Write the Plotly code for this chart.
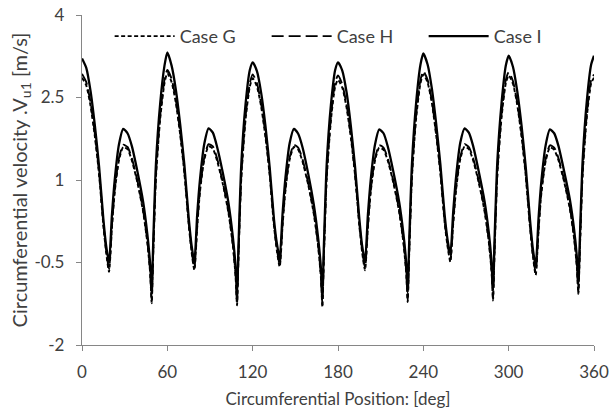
import plotly.graph_objects as go

x_deg = [0,3,6,9,12,15,17,19,21,23,26,29,32,35,39,43,46,48,49,50,52,55,58,
 60,63,66,69,72,75,77,79,81,83,86,89,92,95,99,103,106,108,109,110,112,115,118,
 120,123,126,129,132,135,137,139,141,143,146,149,152,155,159,163,166,168,169,170,172,175,178,
 180,183,186,189,192,195,197,199,201,203,206,209,212,215,219,223,226,228,229,230,232,235,238,
 240,243,246,249,252,255,257,259,261,263,266,269,272,275,279,283,286,288,289,290,292,295,298,
 300,303,306,309,312,315,317,319,321,323,326,329,332,335,339,343,346,348,349,350,352,355,358,
 360]

case_g = [
 2.86,2.72,2.35,1.8,1.1,0.18,-0.32,-0.67,0.12,0.78,1.36,1.6,1.56,1.36,0.95,0.42,-0.15,-0.72,-1.24,-0.4,1.05,2.12,2.76,
 2.94,2.78,2.4,1.83,1.12,0.2,-0.3,-0.64,0.14,0.8,1.37,1.61,1.57,1.35,0.93,0.4,-0.18,-0.75,-1.28,-0.42,1.03,2.1,2.7,
 2.85,2.7,2.33,1.78,1.08,0.16,-0.28,-0.58,0.16,0.8,1.37,1.6,1.55,1.34,0.92,0.38,-0.2,-0.78,-1.31,-0.45,1.0,2.08,2.7,
 2.82,2.68,2.32,1.78,1.08,0.17,-0.32,-0.64,0.13,0.78,1.35,1.59,1.55,1.35,0.94,0.42,-0.14,-0.7,-1.22,-0.38,1.05,2.14,2.76,
 2.92,2.77,2.4,1.82,1.12,0.22,-0.2,-0.49,0.2,0.82,1.38,1.61,1.56,1.36,0.95,0.44,-0.12,-0.68,-1.19,-0.36,1.07,2.14,2.76,
 2.9,2.75,2.37,1.8,1.08,0.14,-0.38,-0.73,0.08,0.76,1.34,1.59,1.55,1.36,0.97,0.48,-0.06,-0.6,-1.07,-0.3,1.1,2.16,2.76,
 2.86]

case_h = [
 2.93,2.78,2.41,1.85,1.15,0.22,-0.28,-0.62,0.16,0.82,1.4,1.64,1.6,1.4,0.98,0.45,-0.12,-0.68,-1.2,-0.36,1.1,2.18,2.82,
 3.0,2.84,2.45,1.88,1.16,0.24,-0.26,-0.6,0.18,0.84,1.41,1.65,1.61,1.39,0.96,0.43,-0.15,-0.71,-1.24,-0.38,1.08,2.16,2.76,
 2.92,2.76,2.38,1.83,1.12,0.2,-0.24,-0.54,0.2,0.84,1.41,1.64,1.59,1.38,0.95,0.41,-0.17,-0.74,-1.27,-0.4,1.05,2.14,2.78,
 2.9,2.74,2.37,1.83,1.12,0.21,-0.28,-0.6,0.17,0.82,1.39,1.63,1.59,1.39,0.97,0.45,-0.11,-0.66,-1.18,-0.34,1.1,2.2,2.82,
 2.98,2.82,2.44,1.86,1.16,0.26,-0.16,-0.45,0.24,0.86,1.42,1.65,1.6,1.4,0.98,0.47,-0.09,-0.64,-1.15,-0.32,1.12,2.2,2.82,
 2.96,2.8,2.41,1.85,1.12,0.18,-0.34,-0.69,0.12,0.8,1.38,1.63,1.59,1.4,1.0,0.51,-0.03,-0.56,-1.04,-0.26,1.15,2.22,2.82,
 2.92]

case_i = [
 3.21,3.04,2.62,2.0,1.25,0.3,-0.2,-0.5,0.35,1.0,1.65,1.93,1.85,1.62,1.15,0.6,0.0,-0.55,-1.08,-0.2,1.3,2.4,3.08,
 3.32,3.08,2.64,2.02,1.27,0.32,-0.18,-0.48,0.37,1.02,1.66,1.94,1.86,1.6,1.13,0.58,-0.02,-0.58,-1.12,-0.22,1.28,2.38,3.0,
 3.14,2.98,2.58,1.98,1.22,0.28,-0.15,-0.42,0.38,1.03,1.67,1.93,1.84,1.6,1.12,0.55,-0.05,-0.6,-1.15,-0.25,1.26,2.36,3.0,
 3.14,2.99,2.6,1.99,1.24,0.3,-0.2,-0.48,0.36,1.0,1.64,1.92,1.85,1.61,1.14,0.6,0.02,-0.52,-1.05,-0.18,1.3,2.42,3.1,
 3.3,3.1,2.66,2.03,1.28,0.36,-0.08,-0.35,0.42,1.05,1.68,1.94,1.86,1.62,1.15,0.62,0.05,-0.5,-1.02,-0.15,1.32,2.4,3.08,
 3.26,3.06,2.62,2.0,1.24,0.28,-0.25,-0.56,0.3,0.98,1.63,1.92,1.85,1.62,1.16,0.65,0.1,-0.42,-0.92,-0.1,1.35,2.45,3.1,
 3.26]

series_names = ["Case G", "Case H", "Case I"]
x_ticks = [0, 60, 120, 180, 240, 300, 360]
y_ticks = [-2, -0.5, 1, 2.5, 4]
y_tick_text = ["-2", "-0.5", "1", "2.5", "4"]

FONT = "Lato"
TXT = "#404040"
AX = "#868686"

fig = go.Figure()
styles = [dict(width=1.9, dash="4px,2.5px"), dict(width=1.9, dash="12px,5px"), dict(width=2.3, dash="solid")]
for name, ys, st in zip(series_names, [case_g, case_h, case_i], styles):
    fig.add_trace(go.Scatter(x=x_deg, y=ys, mode="lines", name=name,
                             line=dict(color="black", width=st["width"], dash=st["dash"],
                                       shape="spline", smoothing=0.6)))

fig.update_layout(
    width=611, height=413,
    margin=dict(l=82, r=17, t=15, b=68),
    paper_bgcolor="white", plot_bgcolor="white",
    font=dict(family=FONT, size=16, color=TXT),
    showlegend=True,
    legend=dict(orientation="h", x=0.054, y=0.935, xanchor="left", yanchor="middle",
                bgcolor="rgba(0,0,0,0)", entrywidth=82, entrywidthmode="pixels",
                font=dict(family=FONT, size=18, color=TXT), itemwidth=60,
                tracegroupgap=0),
    xaxis=dict(range=[0, 360], tickvals=x_ticks, showline=True, linecolor=AX, linewidth=1.3,
               ticks="outside", ticklen=5, tickcolor=AX, showgrid=False, zeroline=False,
               automargin=False, ticklabelstandoff=6, ticklabeloverflow="allow",
               tickfont=dict(family=FONT, size=17, color=TXT),
               title=dict(text="Circumferential Position: [deg]",
                          font=dict(family=FONT, size=17, color=TXT), standoff=12)),
    yaxis=dict(range=[-2, 4], tickvals=y_ticks, ticktext=y_tick_text,
               showline=True, linecolor=AX, linewidth=1.3,
               ticks="outside", ticklen=5, tickcolor=AX, showgrid=False, zeroline=False,
               automargin=False, ticklabelstandoff=8, ticklabeloverflow="allow",
               tickfont=dict(family=FONT, size=17, color=TXT),
               title=dict(text="Circumferential velocity .V<sub>u1</sub> [m/s]",
                          font=dict(family=FONT, size=20, color=TXT), standoff=0)),
)

fig.write_html("out.html", config={"displayModeBar": False},
               post_script="document.body.style.margin='0';document.body.style.overflow='hidden';")
